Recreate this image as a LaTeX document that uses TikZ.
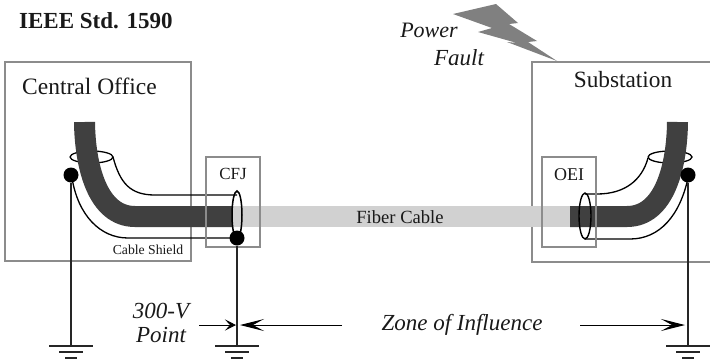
\documentclass[tikz,border=0pt]{standalone}
\usepackage{fontspec}
\setmainfont{Liberation Serif}
\usetikzlibrary{positioning, calc, arrows.meta}

\tikzset{
    housebox/.style={draw=black!45, line width=1.6pt},
    jointbox/.style={draw=black!45, line width=1.2pt},
    wire/.style={draw=black!85, line width=1.5pt},
    shield/.style={draw=black, line width=1.3pt},
    dot/.style={circle, fill=black, inner sep=0pt, minimum size=15pt},
    label/.style={inner sep=0pt, align=center, text=black!90},
    zone/.style={draw=black, line width=1pt, -{Stealth[length=24pt, width=12pt, inset=11pt]}},
    pics/groundbars/.style={code={
        \draw[line width=1.6pt, black!85] (-22,0) -- (22,0);
        \draw[line width=1.6pt, black!85] (-12,6) -- (12,6);
        \draw[line width=2pt, black!85] (-6,12) -- (6,12);
    }}
}

\begin{document}
\begin{tikzpicture}[x=1pt, y=-1pt]
    \useasboundingbox (0,0) rectangle (710,359);

    % buildings
    \draw[housebox] (5,62) rectangle (191,261);
    \draw[housebox] (710,62) -- (532,62) -- (532,262) -- (710,262);

    % fiber, under everything else
    \fill[black!18] (232,206) rectangle (572,227);

    % left shield
    \draw[shield, fill=white] (70,157) arc[start angle=180, end angle=-180, x radius=21.5, y radius=6];
    \draw[shield] (113,157) .. controls (120,183) and (130,195) .. (155,195) -- (237,195);
    \draw[shield] (72,178) .. controls (78,215) and (100,238) .. (128,238) -- (237,238);

    % right shield
    \draw[shield, fill=white] (648,157) arc[start angle=180, end angle=-180, x radius=22, y radius=6];
    \draw[shield] (648,158) .. controls (642,180) and (625,194) .. (597,194) -- (585,194);
    \draw[shield] (688,178) .. controls (680,215) and (660,239) .. (630,239) -- (585,239);

    % cables
    \draw[black!75, line width=21pt] (84.5,122) .. controls (85,165) and (97,216.5) .. (135,216.5) -- (232,216.5);
    \draw[black!75, line width=21pt] (570,216.5) -- (627,216.5) .. controls (665,216.5) and (677,165) .. (677.5,122);

    % joints
    \draw[jointbox] (206,157) rectangle (260,247);
    \draw[jointbox] (542,157) rectangle (596,247);
    \draw[line width=1.5pt] (237,215) ellipse [x radius=5, y radius=24];
    \draw[line width=1.4pt] (585,216) ellipse [x radius=6, y radius=23];

    % grounding points
    \node[dot] (dotCO) at (71,175) {};
    \node[dot] (dotCFJ) at (237,238) {};
    \node[dot] (dotSub) at (688,175) {};
    \coordinate (gndCO) at (71,346);
    \coordinate (gndCFJ) at (237,346);
    \coordinate (gndSub) at (688,346);
    \draw[wire] (dotCO) -- (gndCO);
    \draw[wire] (dotCFJ) -- (gndCFJ);
    \draw[wire] (dotSub) -- (gndSub);
    \pic at (gndCO) {groundbars};
    \pic at (gndCFJ) {groundbars};
    \pic at (gndSub) {groundbars};

    % lightning
    \fill[black!50] (453,14) -- (496,4) -- (518,23) -- (509,24) -- (537,41) -- (528,42) -- (557,61)
        -- (507,42) -- (517,43) -- (478,32) -- (492,28) -- cycle;

    % texts
    \node[label, font=\bfseries\fontsize{23}{25}\selectfont, anchor=west] (stdLabel) at (19,21) {IEEE Std. 1590};
    \node[label, font=\itshape\fontsize{22}{24}\selectfont] (powerLabel) at (429,30) {Power};
    \node[label, font=\itshape\fontsize{23}{25}\selectfont] (faultLabel) at (459,58) {Fault};
    \node[label, font=\fontsize{23.5}{25}\selectfont, anchor=west] (coLabel) at (22,86) {Central Office};
    \node[label, font=\fontsize{23.3}{25}\selectfont] (subLabel) at (623,80) {Substation};
    \node[label, font=\fontsize{17}{19}\selectfont] (cfjLabel) at (233,174) {CFJ};
    \node[label, font=\fontsize{18}{20}\selectfont] (oeiLabel) at (569,175) {OEI};
    \node[label, font=\fontsize{18.6}{20}\selectfont] (fiberLabel) at (400,217) {Fiber Cable};
    \node[label, font=\fontsize{13.7}{15}\selectfont] (shieldLabel) at (148,250) {Cable Shield};
    \node[label, font=\itshape\fontsize{23}{24}\selectfont] (pointLabel) at (161,323) {300-V\\Point};
    \node[label, font=\itshape\fontsize{23}{25}\selectfont] (zoneLabel) at (462,325) {Zone of Influence};

    % zone arrows
    \coordinate (arrowA) at (199,325);
    \coordinate (arrowB) at (236,325);
    \coordinate (arrowC) at (342,325);
    \coordinate (arrowD) at (240,325);
    \coordinate (arrowE) at (580,325);
    \coordinate (arrowF) at (685,325);
    \draw[draw=black, line width=1pt, -{Stealth[length=11pt, width=11pt, inset=5pt]}] (arrowA) -- (arrowB);
    \draw[zone] (arrowC) -- (arrowD);
    \draw[zone] (arrowE) -- (arrowF);
\end{tikzpicture}
\end{document}
